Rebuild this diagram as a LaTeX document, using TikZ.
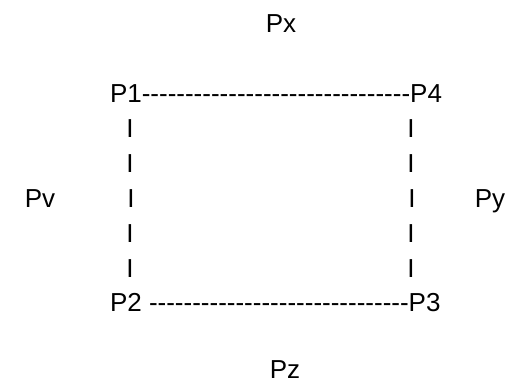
\documentclass[tikz,border=0pt]{standalone}
\usepackage{fontspec}
\setmainfont{Liberation Sans}[Ligatures=TeXOff]
\begin{document}
\begin{tikzpicture}[x=1pt,y=-1pt,
  txt/.style={inner sep=0pt, outer sep=0pt, font=\fontsize{26}{26}\selectfont, text=black},
  bar/.style={txt, anchor=base}]
\useasboundingbox (0,0) rectangle (520,383);
\node[txt, anchor=base] (px) at (281,32) {Px};
\node[txt, anchor=base west] (l1) at (110,102) {P1-------------------------------P4};
\node[bar] (a1) at (130,137) {I};
\node[bar] (a2) at (130,172) {I};
\node[bar] (a3) at (131,207) {I};
\node[bar] (a4) at (130,242) {I};
\node[bar] (a5) at (130,277) {I};
\node[bar] (b1) at (411,137) {I};
\node[bar] (b2) at (411,172) {I};
\node[bar] (b3) at (412,207) {I};
\node[bar] (b4) at (411,242) {I};
\node[bar] (b5) at (411,277) {I};
\node[txt, anchor=base] (pv) at (40,207) {Pv};
\node[txt, anchor=base] (py) at (490,207) {Py};
\node[txt, anchor=base west] (l2) at (110,311) {P2 ------------------------------P3};
\node[txt, anchor=base] (pz) at (285,378.5) {Pz};
\end{tikzpicture}
\end{document}
